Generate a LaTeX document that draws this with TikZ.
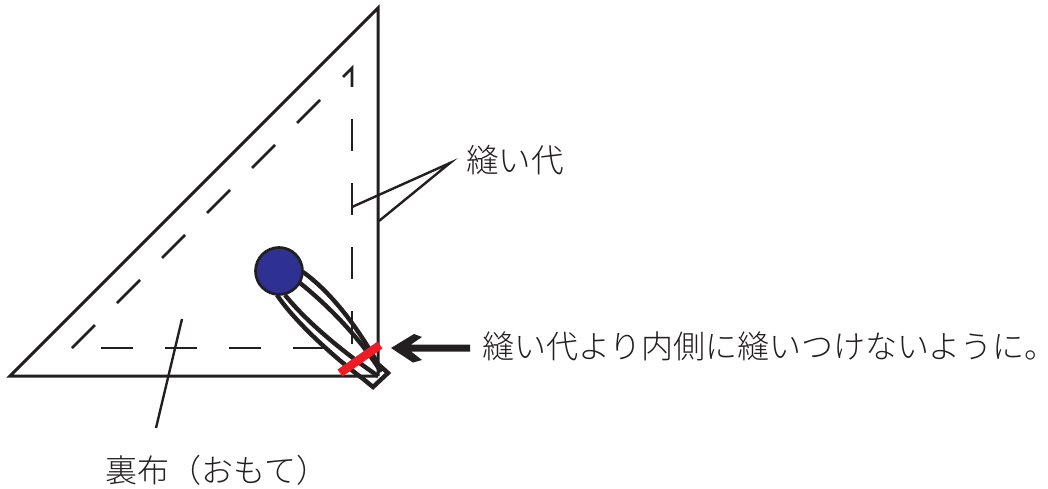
\documentclass[tikz,border=0pt]{standalone}
\usepackage{fontspec}
\newfontfamily\cjk{Noto Sans CJK JP Light}
\definecolor{ink}{HTML}{231F20}
\definecolor{navy}{HTML}{2E3192}
\definecolor{redbar}{HTML}{ED1C24}
\tikzset{
  outline/.style={draw=ink,line width=3pt,line join=miter},
  seam/.style={draw=ink,line width=2.8pt},
  leader/.style={draw=ink,line width=2.4pt},
  thread/.style={draw=ink,line width=4.4pt},
  label/.style={text=ink,font=\cjk\fontsize{32.5}{36}\selectfont,inner sep=0pt},
  longlabel/.style={text=ink,font=\cjk\fontsize{32}{36}\selectfont,inner sep=0pt}
}
\begin{document}
\begin{tikzpicture}[x=1pt,y=-1pt]
\useasboundingbox (0,0) rectangle (1048,489);
% fabric triangle
\coordinate (tl) at (10,376);
\coordinate (tt) at (378,8);
\coordinate (tr) at (378,376);
\draw[outline] (tr) -- (tl) -- (tt) -- (tr);
% seam line
\draw[seam] (343,77) -- (352,68) -- (352,87);
\foreach \ya/\yb in {119/151,183/215,247/279,311/344}{\draw[seam] (352,\ya) -- (352,\yb);}
\foreach \xa in {101,165,229,293}{\draw[seam] (\xa,348) -- (\xa+32,348);}
\foreach \xa in {72,117,162,207,252,297}{\draw[seam] (\xa,420-\xa) -- (\xa+23,397-\xa);}
% labels
\node[label,anchor=center] (seamlabel) at (515,160) {縫い代};
\node[longlabel,anchor=west] (warn) at (482,346) {縫い代より内側に縫いつけないように。};
\node[longlabel,anchor=center] (cloth) at (217,470) {裏布（おもて）};
% leaders
\coordinate (fork) at (450,163);
\coordinate (la) at (352,207);
\coordinate (lb) at (379,221);
\draw[leader,line join=miter] (la) -- (fork) -- (lb);
\coordinate (ca) at (182,319);
\coordinate (cb) at (156,428);
\draw[leader] (ca) -- (cb);
% thread
\draw[thread] (303,272) .. controls (332,293) and (358,328) .. (378,364) -- (388,373) -- (373,387) -- (362,378) .. controls (335,358) and (295,322) .. (277,295);
\draw[thread] (300,283) .. controls (325,303) and (358,335) .. (381,372);
\draw[thread] (285,295) .. controls (305,320) and (340,350) .. (378,376);
% needle head
\node[circle,draw=ink,fill=navy,line width=2.7pt,minimum size=47pt,inner sep=0pt] (head) at (279,271) {};
% red stitch
\coordinate (ra) at (340,373);
\coordinate (rb) at (380,345);
\draw[redbar,line width=8.5pt] (ra) -- (rb);
% arrow
\fill[ink] (391,348) -- (414,334) -- (422,337) -- (411,344.5) -- (470,344.5) -- (470,351.5) -- (411,351.5) -- (422,360) -- (413,362.5) -- cycle;
\end{tikzpicture}
\end{document}
